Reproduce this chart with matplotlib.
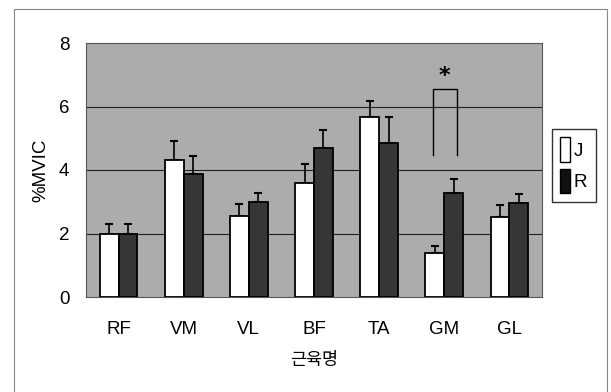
import matplotlib
matplotlib.use("Agg")
import matplotlib.pyplot as plt
import numpy as np
from matplotlib.patches import Rectangle, Patch

categories = ["RF", "VM", "VL", "BF", "TA", "GM", "GL"]
j_values = [2.00, 4.30, 2.54, 3.58, 5.66, 1.39, 2.51]
j_err = [0.29, 0.61, 0.40, 0.62, 0.51, 0.21, 0.39]
r_values = [1.98, 3.87, 2.99, 4.68, 4.84, 3.29, 2.97]
r_err = [0.31, 0.56, 0.28, 0.59, 0.82, 0.43, 0.26]
series_labels = ["J", "R"]
yticks = [0, 2, 4, 6, 8]
sig_category = "GM"
sig_bottom = 4.48
sig_top = 6.56

plt.rcParams['font.family'] = ['Liberation Sans', 'Noto Sans CJK KR', 'DejaVu Sans']

fig = plt.figure(figsize=(6.11, 3.92), dpi=100)
ax = fig.add_axes([86/611, 1 - 297/392, (542-86)/611, (297-43)/392])

x = np.arange(len(categories))
w = 0.29
ax.set_facecolor('#acacac')
for yv in yticks[1:-1]:
    ax.axhline(yv, color='#202020', lw=0.8, zorder=1)

ax.bar(x - w/2, j_values, w, color='white', edgecolor='black', lw=1.3, zorder=3)
ax.bar(x + w/2, r_values, w, color='#363636', edgecolor='black', lw=1.3, zorder=3)
ax.errorbar(x - w/2, j_values, yerr=[np.zeros(len(x)), j_err], fmt='none',
            ecolor='black', elinewidth=1.2, capsize=3, capthick=1.5, zorder=2)
ax.errorbar(x + w/2, r_values, yerr=[np.zeros(len(x)), r_err], fmt='none',
            ecolor='black', elinewidth=1.2, capsize=3, capthick=1.5, zorder=2)

gi = categories.index(sig_category)
xl, xr = gi - 0.17, gi + 0.20
ax.plot([xl, xl, xr, xr], [sig_bottom, sig_top, sig_top, sig_bottom], color='black', lw=1.0, zorder=4)
ax.text((xl + xr) / 2 - 0.01, sig_top + 0.1, '*', ha='center', va='bottom',
        fontsize=16, fontweight='bold', family='DejaVu Sans', zorder=4)

ax.set_xlim(-0.5, len(categories) - 0.5)
ax.set_ylim(0, 8)
ax.set_yticks(yticks)
ax.set_xticks(x)
ax.set_xticklabels(categories)
ax.tick_params(axis='both', length=0, labelsize=13.5)
ax.tick_params(axis='y', pad=12)
ax.tick_params(axis='x', pad=17)
for s in ax.spines.values():
    s.set_color('#555555')
    s.set_linewidth(0.8)

ax.set_ylabel('%MVIC', fontsize=13.5, labelpad=7)
ax.set_xlabel('근육명', fontsize=12.5, labelpad=10, family=['Noto Sans CJK KR', 'DejaVu Sans'])

handles = [Patch(facecolor='white', edgecolor='black', lw=1.0),
           Patch(facecolor='#111111', edgecolor='black', lw=1.0)]
leg = fig.legend(handles, series_labels, loc='upper left',
                 bbox_to_anchor=(552/611, 1 - 129/392), bbox_transform=fig.transFigure,
                 handlelength=0.5, handleheight=1.6, handletextpad=0.2,
                 fontsize=13.5, fancybox=False, borderpad=0.45, labelspacing=0.4,
                 borderaxespad=0)
leg.get_frame().set_edgecolor('black')
leg.get_frame().set_linewidth(1.0)

fig.add_artist(Rectangle((14/611, -0.05), (607-14)/611, 1 - 9/392 + 0.05,
                         transform=fig.transFigure, fill=False, edgecolor='#888888', lw=0.8))

fig.savefig('out.png', dpi=100)
